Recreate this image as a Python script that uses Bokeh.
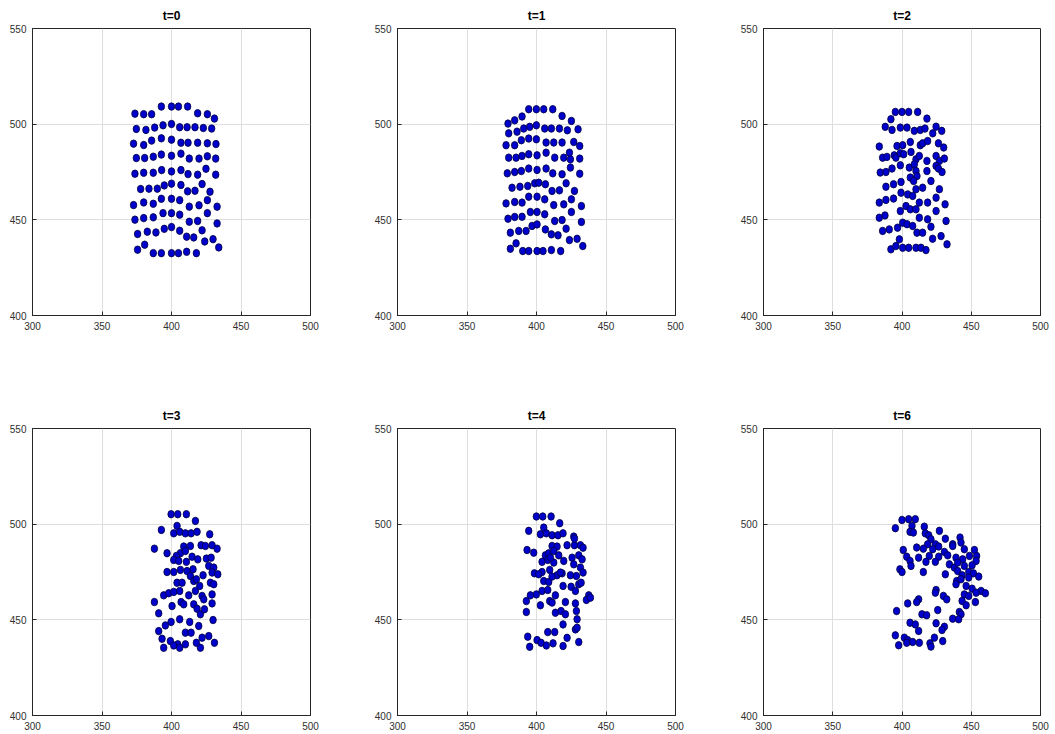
from bokeh.plotting import figure
from bokeh.layouts import column, row
from bokeh.models import Range1d, FixedTicker, LinearAxis, Grid
from bokeh.embed import file_html
from bokeh.resources import INLINE

titles = ["t=0", "t=1", "t=2", "t=3", "t=4", "t=6"]
x_ticks = [300, 350, 400, 450, 500]
y_ticks = [400, 450, 500, 550]

x_t0 = [373.7, 380.0, 385.7, 392.7, 400.0, 405.0, 411.6, 418.8, 425.8, 430.9,
        374.7, 381.6, 387.9, 393.9, 400.0, 405.9, 411.2, 416.9, 422.9, 428.9,
        372.7, 380.0, 385.7, 392.7, 400.0, 406.8, 411.9, 418.8, 425.8, 432.0,
        374.7, 380.7, 386.9, 392.7, 400.0, 406.8, 412.8, 419.8, 425.8, 431.8,
        373.7, 380.0, 386.9, 392.9, 400.0, 406.8, 411.9, 418.8, 424.8, 431.8,
        377.8, 383.8, 389.8, 394.8, 400.0, 406.8, 411.6, 416.9, 422.0, 427.7,
        372.7, 380.0, 386.9, 392.7, 400.0, 405.9, 412.8, 419.8, 425.8, 432.8,
        373.7, 380.0, 386.9, 393.9, 400.0, 405.9, 412.8, 418.8, 425.8, 432.8,
        375.6, 382.6, 388.8, 394.8, 400.0, 405.9, 410.9, 416.0, 422.0, 429.9,
        375.6, 380.7, 386.9, 392.7, 400.0, 405.0, 410.9, 417.9, 423.9, 434.0]
y_t0 = [505.5, 505.2, 505.2, 509.2, 509.2, 509.2, 509.2, 505.7, 505.2, 502.9,
        497.5, 497.0, 498.2, 499.4, 500.1, 498.4, 498.4, 498.4, 498.0, 497.7,
        489.8, 489.1, 491.4, 492.6, 491.9, 490.3, 490.3, 490.3, 490.0, 489.6,
        482.3, 482.3, 483.0, 484.1, 483.5, 484.6, 482.0, 482.0, 483.2, 482.0,
        474.1, 474.6, 474.6, 476.0, 475.3, 476.0, 473.9, 473.6, 476.7, 473.6,
        466.1, 466.3, 466.3, 468.0, 468.9, 468.2, 464.9, 465.2, 468.7, 464.7,
        457.7, 459.1, 458.4, 461.0, 461.0, 460.3, 456.9, 457.6, 460.3, 456.9,
        450.1, 450.9, 451.3, 453.5, 453.5, 452.7, 449.0, 449.4, 453.5, 448.1,
        442.6, 443.8, 443.4, 445.3, 446.2, 444.3, 441.2, 440.8, 444.5, 439.9,
        434.4, 437.0, 432.6, 432.6, 432.6, 432.6, 433.3, 432.6, 438.7, 435.6]

x_t1 = [394.4, 399.9, 405.2, 411.7, 418.4, 425.1, 389.6, 384.3, 379.5, 429.9,
        380.0, 386.0, 390.8, 395.1, 399.9, 405.9, 410.7, 416.5, 422.2,
        378.1, 384.3, 389.1, 394.4, 399.9, 406.9, 412.4, 418.4, 426.8, 431.1,
        380.0, 385.3, 389.6, 394.4, 400.4, 406.9, 413.1, 419.6, 423.7, 424.4, 431.1,
        379.0, 384.3, 389.1, 394.4, 400.4, 406.9, 411.7, 418.4, 424.4, 431.1,
        382.4, 388.1, 393.7, 398.7, 401.6, 406.4, 411.2, 416.5, 421.3, 427.3,
        378.1, 384.3, 389.6, 394.4, 400.4, 405.9, 412.4, 419.6, 425.1, 432.3,
        379.5, 384.3, 389.6, 395.6, 400.4, 405.9, 413.1, 418.4, 425.1, 432.3,
        381.2, 387.2, 392.5, 396.8, 400.4, 406.4, 410.7, 415.5, 421.3, 423.7, 429.2, 433.3,
        381.2, 385.3, 390.1, 394.4, 400.4, 404.7, 410.7, 417.4]
y_t1 = [507.8, 507.8, 507.8, 507.8, 504.3, 501.7, 504.0, 502.0, 500.3, 497.3,
        495.2, 496.1, 497.7, 498.6, 499.4, 497.7, 497.7, 497.7, 496.8,
        489.0, 489.0, 491.6, 492.5, 492.1, 490.4, 490.4, 490.4, 490.7, 488.6,
        482.5, 482.5, 483.4, 484.3, 483.7, 485.1, 482.5, 482.5, 485.1, 481.6, 482.0,
        474.3, 475.0, 475.5, 476.8, 476.1, 476.8, 474.3, 473.8, 477.3, 474.1,
        466.8, 467.3, 467.7, 469.1, 469.4, 468.6, 465.1, 465.4, 469.1, 465.1,
        458.6, 459.3, 459.0, 462.1, 462.1, 460.7, 457.7, 458.1, 460.7, 457.2,
        450.6, 451.5, 451.6, 454.1, 454.1, 452.9, 449.4, 449.9, 454.1, 448.9,
        443.3, 444.2, 444.2, 446.8, 447.6, 445.0, 442.4, 441.9, 445.4, 439.4, 440.1, 436.3,
        434.9, 437.7, 433.7, 433.7, 433.7, 433.7, 434.2, 433.7]

x_t2 = [395.2, 400.0, 404.8, 411.3, 418.0, 392.0,
        387.9, 392.8, 398.8, 403.6, 408.9, 413.2, 416.6, 422.2, 424.6, 428.7,
        383.6, 396.4, 400.5, 406.0, 413.2, 414.9, 418.5, 426.3, 430.1,
        386.0, 389.1, 394.4, 395.6, 398.8, 401.2, 406.5, 410.1, 412.5, 418.0, 424.6, 427.0, 430.6,
        384.3, 388.4, 392.8, 398.8, 405.3, 408.9, 410.1, 410.8, 418.0, 424.6, 426.3, 428.9,
        388.4, 393.9, 399.3, 406.0, 408.4, 410.1, 414.9, 420.9, 427.0,
        383.6, 388.4, 393.9, 399.3, 404.1, 407.7, 412.5, 418.5, 424.6, 431.1,
        383.6, 387.7, 398.8, 402.9, 406.0, 410.1, 412.5, 418.5, 424.6, 431.8,
        386.0, 390.8, 396.8, 400.5, 403.6, 407.7, 410.8, 414.9, 420.9, 422.1, 428.2, 432.5,
        392.0, 395.6, 398.1, 400.5, 404.8, 410.1, 413.7, 417.3]
y_t2 = [506.4, 506.4, 506.4, 506.4, 502.9, 502.6,
        498.6, 497.0, 498.2, 498.2, 496.5, 497.0, 497.7, 495.2, 498.7, 496.5,
        488.3, 488.6, 489.0, 490.7, 489.0, 490.0, 491.2, 490.0, 487.8,
        482.5, 482.9, 483.7, 482.5, 484.8, 484.3, 485.5, 481.6, 483.4, 480.8, 483.4, 480.8, 482.0,
        474.7, 475.0, 476.8, 478.5, 477.3, 479.0, 475.5, 472.9, 475.5, 478.2, 476.8, 475.0,
        467.3, 468.6, 469.8, 472.1, 470.3, 466.0, 466.8, 470.3, 466.0,
        459.0, 460.4, 461.1, 464.2, 463.3, 462.5, 459.0, 459.0, 461.6, 458.1,
        451.1, 452.3, 454.6, 457.2, 455.5, 455.5, 451.1, 450.3, 454.6, 449.4,
        444.2, 445.0, 445.9, 448.5, 447.7, 446.8, 443.3, 443.3, 446.4, 440.1, 441.5, 437.2,
        434.6, 436.3, 439.8, 435.4, 435.4, 435.4, 435.4, 434.2]

x_t3 = [399.7, 404.5, 410.7, 417.2, 404.0, 392.7, 401.6, 405.9, 410.0, 414.1, 418.4, 427.5,
        387.7, 408.8, 413.6, 421.3, 424.4, 429.2, 432.8, 396.8, 406.4, 403.5, 410.0,
        401.6, 405.2, 410.7, 414.8, 418.9, 425.1, 428.5, 426.8, 430.4,
        396.8, 401.6, 406.4, 411.2, 415.5, 422.7, 429.2, 433.3, 413.6,
        404.0, 407.6, 416.0, 417.9, 420.3, 428.0, 430.4,
        394.4, 398.0, 401.6, 405.9, 412.4, 417.2, 422.0, 429.2,
        387.7, 400.4, 406.9, 408.8, 416.0, 418.4, 423.2, 429.2,
        390.8, 420.8, 423.7, 395.6, 399.7, 405.9, 413.1, 419.6, 429.9,
        390.8, 410.0, 414.1, 426.8, 393.2, 399.2, 404.5, 410.0, 417.9, 430.9,
        394.4, 401.6, 405.9, 420.8, 422.0]
y_t3 = [505.2, 505.2, 505.2, 501.7, 499.1, 497.0, 495.2, 496.0, 495.2, 495.2, 496.0, 494.7,
        487.2, 488.3, 488.6, 489.0, 488.6, 489.0, 487.2, 484.8, 484.8, 483.4, 486.0,
        481.3, 480.8, 480.3, 483.0, 481.6, 482.0, 482.5, 478.2, 477.3,
        475.0, 475.0, 476.1, 475.5, 476.4, 473.3, 474.7, 473.8, 472.9,
        469.4, 469.4, 470.3, 471.2, 467.7, 469.4, 468.6,
        462.8, 463.9, 464.6, 465.1, 462.8, 465.1, 462.5, 463.3,
        459.3, 457.2, 459.3, 458.1, 458.1, 455.8, 460.7, 458.6,
        453.4, 452.9, 455.5, 447.1, 448.9, 450.3, 448.9, 446.8, 449.9,
        444.1, 443.3, 443.3, 441.5, 440.1, 438.9, 437.2, 437.2, 438.0, 438.0,
        435.4, 436.6, 435.4, 435.4, 440.7]

x_t4 = [399.9, 404.5, 410.5, 416.7, 405.2, 394.4, 402.8, 407.1, 411.2, 415.5, 419.1, 426.8,
        393.2, 398.0, 411.2, 414.8, 422.0, 427.3, 431.6, 433.5,
        406.4, 408.8, 412.4, 416.0, 425.6, 430.4, 432.8,
        404.0, 408.1, 412.4, 419.6, 426.8, 431.6,
        398.5, 404.0, 409.5, 414.8, 418.4, 424.4, 428.7, 433.5,
        405.2, 408.8, 419.1, 424.9, 430.4, 432.1,
        395.6, 399.9, 404.0, 408.1, 413.6, 428.0, 437.6, 435.9,
        392.7, 402.8, 409.5, 411.2, 420.8, 428.0, 438.8,
        392.7, 413.6, 417.7, 420.8, 428.7, 419.1, 429.2,
        408.1, 413.1, 428.0, 393.7, 400.4, 403.3, 407.1, 411.9, 422.0, 430.4,
        395.1, 419.1, 417.2, 411.2, 429.2, 427.3, 410.0, 401.6]
y_t4 = [504.0, 504.0, 504.0, 500.5, 498.2, 496.5, 494.7, 495.2, 494.2, 494.2, 495.2, 493.5,
        486.5, 485.1, 488.6, 488.3, 489.0, 489.0, 489.0, 487.7,
        483.7, 484.8, 486.0, 483.7, 482.5, 483.7, 481.6,
        480.3, 481.3, 479.9, 480.8, 479.0, 477.3,
        474.3, 475.0, 476.1, 473.3, 474.3, 473.3, 472.9, 474.7,
        470.3, 469.8, 467.7, 467.3, 468.6, 469.4,
        462.8, 463.3, 465.1, 465.6, 462.8, 465.1, 462.8, 460.4,
        459.8, 457.6, 459.8, 459.0, 459.3, 458.6, 461.6,
        454.1, 453.7, 454.6, 452.9, 454.6, 447.6, 450.3,
        443.6, 443.6, 445.0, 441.2, 439.4, 438.0, 436.6, 437.7, 440.6, 438.4,
        435.9, 436.3, 474.7, 472.6, 445.9, 492.5, 482.5, 473.8]

x_t6 = [395.2, 400.0, 404.8, 409.6, 407.2, 405.8, 408.2, 416.1, 416.8, 419.3, 427.0,
        420.9, 418.5, 424.1, 431.3, 436.6, 441.9, 442.6,
        400.9, 410.6, 415.4, 422.2, 426.5, 430.6, 436.6, 445.0, 452.3, 453.9,
        403.4, 405.8, 412.0, 419.7, 426.5, 433.0, 439.0, 443.8, 448.7,
        406.5, 417.3, 424.1, 434.2, 437.8, 440.2, 445.0, 450.6, 453.5,
        398.5, 400.0, 415.4, 431.3, 440.2, 443.4, 448.2, 451.6,
        439.5, 442.6, 448.2, 455.4, 439.0, 446.3, 450.6, 457.1, 460.2,
        424.6, 424.1, 429.9, 432.3, 445.0, 448.2, 453.5,
        412.0, 404.1, 410.6, 443.4, 446.3, 453.0,
        396.1, 425.8, 441.4, 442.6, 414.4, 417.8, 436.6, 440.9, 424.6,
        405.8, 409.6, 412.0, 430.6, 428.9,
        395.2, 401.7, 404.1, 407.7, 412.5, 420.2, 423.4, 429.4, 397.6, 403.4, 420.9]
y_t6 = [497.9, 502.2, 502.6, 502.6, 499.1, 496.0, 495.6, 498.7, 495.2, 494.2, 496.5,
        492.1, 489.5, 489.5, 492.4, 489.5, 493.0, 490.4,
        486.5, 487.8, 487.2, 486.9, 488.3, 485.5, 488.6, 486.9, 486.5, 483.4,
        483.0, 480.8, 482.5, 483.4, 483.0, 483.7, 482.5, 481.6, 483.4,
        478.2, 480.3, 480.3, 479.0, 477.3, 479.9, 478.2, 478.5, 480.8,
        476.4, 475.0, 475.0, 473.8, 475.5, 473.3, 475.0, 474.3,
        470.3, 471.2, 472.1, 472.6, 468.6, 467.7, 466.3, 465.1, 463.9,
        465.6, 464.2, 462.5, 460.7, 463.3, 462.5, 464.2,
        460.7, 458.6, 459.3, 459.9, 457.6, 459.3,
        454.6, 455.1, 454.1, 452.9, 452.9, 452.4, 450.6, 450.3, 448.2,
        448.5, 447.6, 444.2, 446.4, 444.7,
        441.9, 440.7, 439.4, 438.4, 438.0, 437.7, 440.7, 438.9, 436.7, 438.0, 436.0]

xs_all = [x_t0, x_t1, x_t2, x_t3, x_t4, x_t6]
ys_all = [y_t0, y_t1, y_t2, y_t3, y_t4, y_t6]

AX = "#262626"
GRID = "#dedede"
FONT = "Liberation Sans"

# (left, right, frame_w) per column; (top, bottom) per row
col_geom = [(32, 55, 278), (32, 55, 278), (33, 15, 277)]
row_geom = [(28, 85), (28, 19)]


def make(i):
    r, c = divmod(i, 3)
    left, right, fw = col_geom[c]
    top, bottom = row_geom[r]
    p = figure(frame_width=fw, frame_height=287,
               min_border_left=left, min_border_right=right,
               min_border_top=top, min_border_bottom=bottom,
               x_range=Range1d(300, 500), y_range=Range1d(400, 550),
               output_backend="svg", toolbar_location=None,
               title=titles[i], x_axis_type=None, y_axis_type=None)
    p.title.align = "center"
    p.title.text_font = FONT
    p.title.text_font_size = "12px"
    p.title.text_font_style = "bold"
    p.title.text_color = "#000000"
    p.title.text_line_height = 0.9
    p.title.standoff = 12
    p.outline_line_color = AX
    p.outline_line_width = 1
    p.background_fill_color = "white"
    p.border_fill_color = "white"

    for side in ("below", "left"):
        ticks = x_ticks if side == "below" else y_ticks
        ax = LinearAxis(ticker=FixedTicker(ticks=ticks))
        ax.axis_line_color = AX
        ax.major_tick_line_color = AX
        ax.major_tick_in = 4
        ax.major_tick_out = 0
        ax.minor_tick_line_color = None
        ax.major_label_text_font = FONT
        ax.major_label_text_font_size = "10px"
        ax.major_label_text_color = "#303030"
        ax.major_label_standoff = 6
        p.add_layout(ax, side)

    p.add_layout(Grid(dimension=0, ticker=FixedTicker(ticks=x_ticks),
                      grid_line_color=GRID, grid_line_width=1))
    p.add_layout(Grid(dimension=1, ticker=FixedTicker(ticks=y_ticks),
                      grid_line_color=GRID, grid_line_width=1))

    p.ellipse(x=xs_all[i], y=ys_all[i], width=6.5, height=7.5,
              width_units="screen", height_units="screen",
              fill_color="#0000cc", line_color="#00003c", line_width=0.8)
    return p


figs = [make(i) for i in range(6)]
layout = column(row(*figs[:3]), row(*figs[3:]))
open("out.html", "w").write(file_html(layout, INLINE))
